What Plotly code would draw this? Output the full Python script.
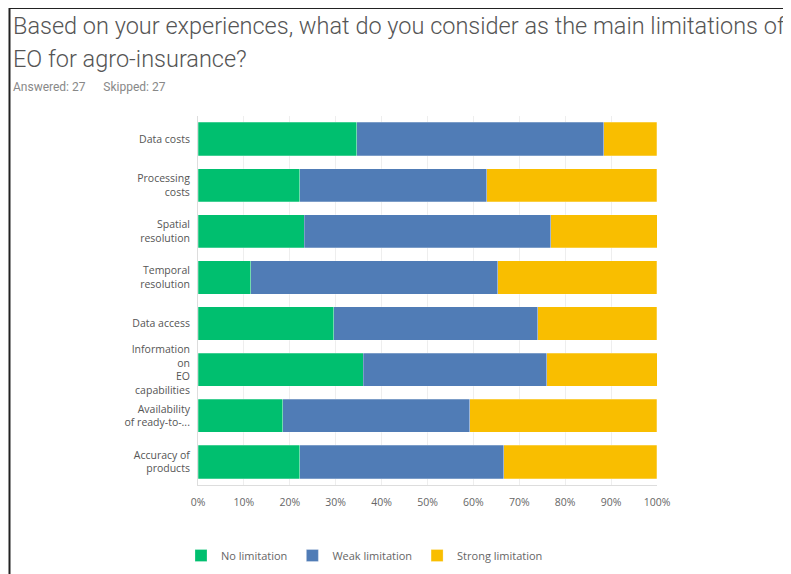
import plotly.graph_objects as go

categories = [
    "Data costs",
    "Processing<br>costs",
    "Spatial<br>resolution",
    "Temporal<br>resolution",
    "Data access",
    "Information<br>on<br>EO<br>capabilities",
    "Availability<br>of ready-to-...",
    "Accuracy of<br>products",
]
no_limitation = [34.6, 22.2, 23.1, 11.5, 29.6, 36.0, 18.5, 22.2]
weak_limitation = [53.8, 40.7, 53.8, 53.8, 44.4, 40.0, 40.7, 44.4]
strong_limitation = [11.5, 37.0, 23.1, 34.6, 25.9, 24.0, 40.7, 33.3]
x_ticks = [0, 10, 20, 30, 40, 50, 60, 70, 80, 90, 100]
title_lines = [
    "Based on your experiences, what do you consider as the main limitations of",
    "EO for agro-insurance?",
]

series = [
    ("No limitation", no_limitation, "#00BF6F"),
    ("Weak limitation", weak_limitation, "#507CB6"),
    ("Strong limitation", strong_limitation, "#F9BE00"),
]

fig = go.Figure()
for name, vals, col in series:
    fig.add_trace(go.Bar(
        y=categories, x=vals, name=name, orientation="h",
        marker=dict(color=col, line=dict(color="rgba(255,255,255,0.5)", width=0.5)),
    ))

OFF = 8  # page body margin
W, H = 783, 566
ml, mr, mt, mb = 190, 134, 108, 89
pw, ph = W - ml - mr, H - mt - mb

def px_x(p):
    return (p - OFF - ml) / pw

def px_y(p):
    return (H - mb - (p - OFF)) / ph

fig.update_layout(
    width=W, height=H,
    margin=dict(l=ml, r=mr, t=mt, b=mb, pad=0, autoexpand=False),
    barmode="stack", bargap=0.28,
    plot_bgcolor="white", paper_bgcolor="white",
    font=dict(family="Open Sans", size=11, color="#555"),
    xaxis=dict(
        range=[0, 100], tickvals=x_ticks,
        ticktext=[f"{v}%" for v in x_ticks],
        showgrid=True, gridcolor="#eeeeee", gridwidth=1,
        zeroline=False, showline=True, linecolor="#dddddd", linewidth=1,
        ticks="", ticklabelstandoff=7,
        tickfont=dict(family="Open Sans", size=10.5, color="#666"),
        fixedrange=True,
    ),
    yaxis=dict(
        autorange="reversed", showgrid=False, zeroline=False,
        showline=True, linecolor="#dddddd", linewidth=1,
        ticks="", ticklabelstandoff=5,
        tickfont=dict(family="Open Sans", size=10.5, color="#555"),
    ),
    legend=dict(
        orientation="h", x=px_x(181), y=px_y(541), xanchor="left", yanchor="top",
        font=dict(family="Open Sans", size=11, color="#666"),
        traceorder="normal", itemclick=False,
    ),
    showlegend=True,
)

# Title (two lines) and subtitle
for i, line in enumerate(title_lines):
    fig.add_annotation(
        xref="paper", yref="paper", x=px_x(11), y=px_y(10 + 33 * i),
        xanchor="left", yanchor="top",
        text=line, showarrow=False, align="left",
        font=dict(family="Roboto", size=23.5, color="#555", weight=300),
    )
fig.add_annotation(
    xref="paper", yref="paper", x=px_x(11), y=px_y(78), xanchor="left", yanchor="top",
    text="Answered: 27" + "&nbsp;" * 6 + "Skipped: 27",
    showarrow=False, align="left",
    font=dict(family="Roboto", size=12, color="#888"),
)

# Frame lines (top and left)
fig.add_shape(type="line", xref="paper", yref="paper",
              x0=px_x(9.5), x1=px_x(W + 20), y0=px_y(8), y1=px_y(8),
              line=dict(color="#222", width=2))
fig.add_shape(type="line", xref="paper", yref="paper",
              x0=px_x(9.5), x1=px_x(9.5), y0=px_y(8), y1=px_y(H + 20),
              line=dict(color="#222", width=2))

fig.write_html("out.html")
